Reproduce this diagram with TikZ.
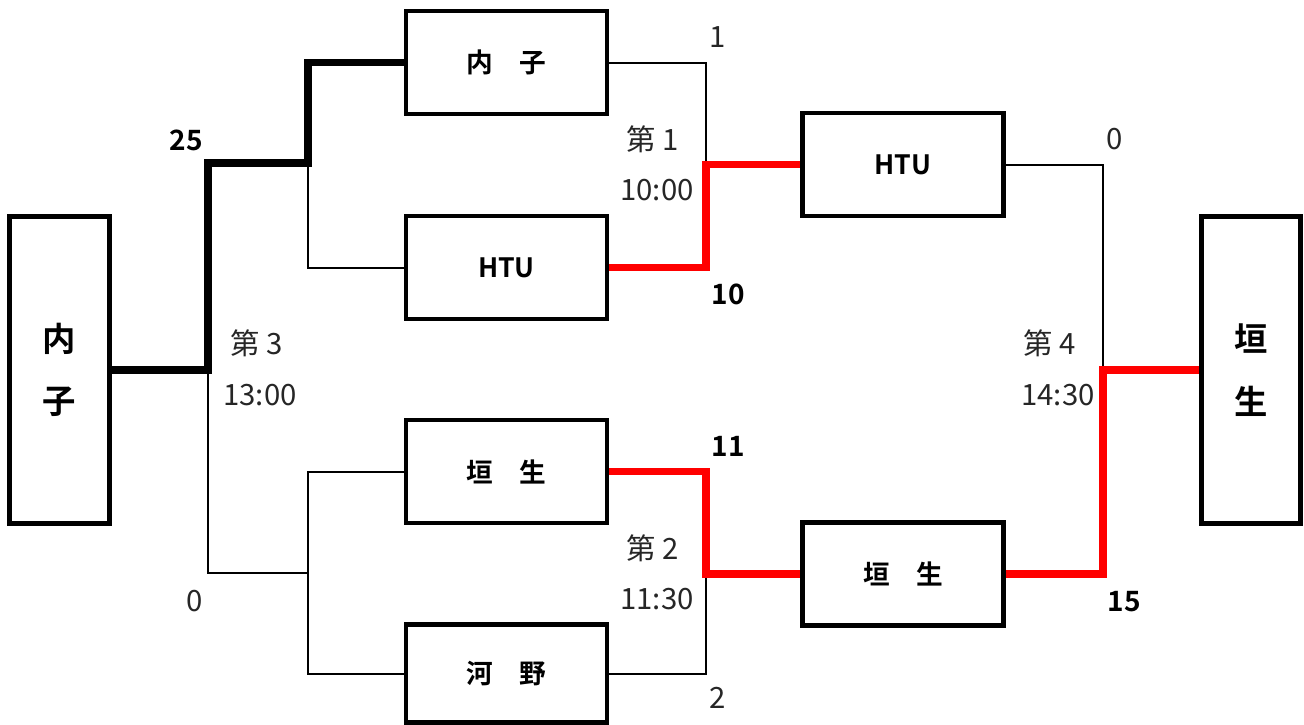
\documentclass[tikz,border=0pt]{standalone}
\usepackage{fontspec}
\setmainfont{Noto Sans CJK JP}[BoldFont={Noto Sans CJK JP Bold}]
\begin{document}
\begin{tikzpicture}[x=0.75pt,y=-0.75pt,
  team/.style={draw, line width=3.6pt, minimum width=150.75pt, minimum height=77.25pt,
    inner sep=0pt, font=\bfseries\fontsize{20}{22}\selectfont},
  champ/.style={draw, line width=3.6pt, minimum width=74.5pt, minimum height=230.5pt,
    inner sep=0pt, align=center, font=\bfseries\fontsize{25}{47}\selectfont},
  thinline/.style={line width=1.5pt, black},
  winblack/.style={line width=5.4pt, black},
  winred/.style={line width=5.4pt, red},
  info/.style={font=\fontsize{22}{24}\selectfont, text=black!85, inner sep=0pt},
  score/.style={font=\bfseries\fontsize{21}{24}\selectfont, inner sep=0pt}]
\useasboundingbox (0,0) rectangle (1304,725);
% teams
\node[team] (A) at (506.5,62.5) {内\hspace{1em}子};
\node[team] (B) at (506.5,267.5) {HTU};
\node[team] (C) at (506.5,471.5) {垣\hspace{1em}生};
\node[team] (D) at (506.5,673.5) [minimum height=73.5pt] {河\hspace{1em}野};
\node[team] (E) at (903,164.5) {HTU};
\node[team] (F) at (903,574) {垣\hspace{1em}生};
\node[champ] (L) at (59.5,370) {内\\子};
\node[champ] (R) at (1251,370) {垣\\生};
% junctions
\coordinate (q1) at (308,163);
\coordinate (q2) at (308,573);
\coordinate (q3) at (208,370);
\coordinate (m1) at (706,164.5);
\coordinate (m2) at (706,574);
\coordinate (m3) at (1103,370);
% thin lines
\draw[thinline] (B.west) -| (q1);
\draw[thinline] (C.west) -| (q2);
\draw[thinline] (D.west) -| (q2);
\draw[thinline] (q2) -| (q3);
\draw[thinline] (A.east) -| (m1);
\draw[thinline] (D.east) -| (m2);
\draw[thinline] (E.east) -| (m3);
% winners
\draw[winblack, line join=miter] (A.west) -| (q1) -| (q3) -- (L.east);
\draw[winred, line join=miter] (B.east) -| (m1) -- (E.west);
\draw[winred, line join=miter] (C.east) -| (m2) -- (F.west);
\draw[winred, line join=miter] (F.east) -| (m3) -- (R.west);
% labels
\node[info] (s1) at (718,37) {1};
\node[info] (g1) at (653,139) {第 1};
\node[info] (t1) at (657,190) {10:00};
\node[score] (s2) at (728,294) {10};
\node[score] (s3) at (728,446) {11};
\node[info] (g2) at (653,548) {第 2};
\node[info] (t2) at (657,599) {11:30};
\node[info] (s4) at (718,698) {2};
\node[score] (s5) at (186,140) {25};
\node[info] (g3) at (257,343) {第 3};
\node[info] (t3) at (260,395) {13:00};
\node[info] (s6) at (195,601) {0};
\node[info] (s7) at (1115,139) {0};
\node[info] (g4) at (1050,343) {第 4};
\node[info] (t4) at (1058,395) {14:30};
\node[score] (s8) at (1124,602) {15};
\end{tikzpicture}
\end{document}
